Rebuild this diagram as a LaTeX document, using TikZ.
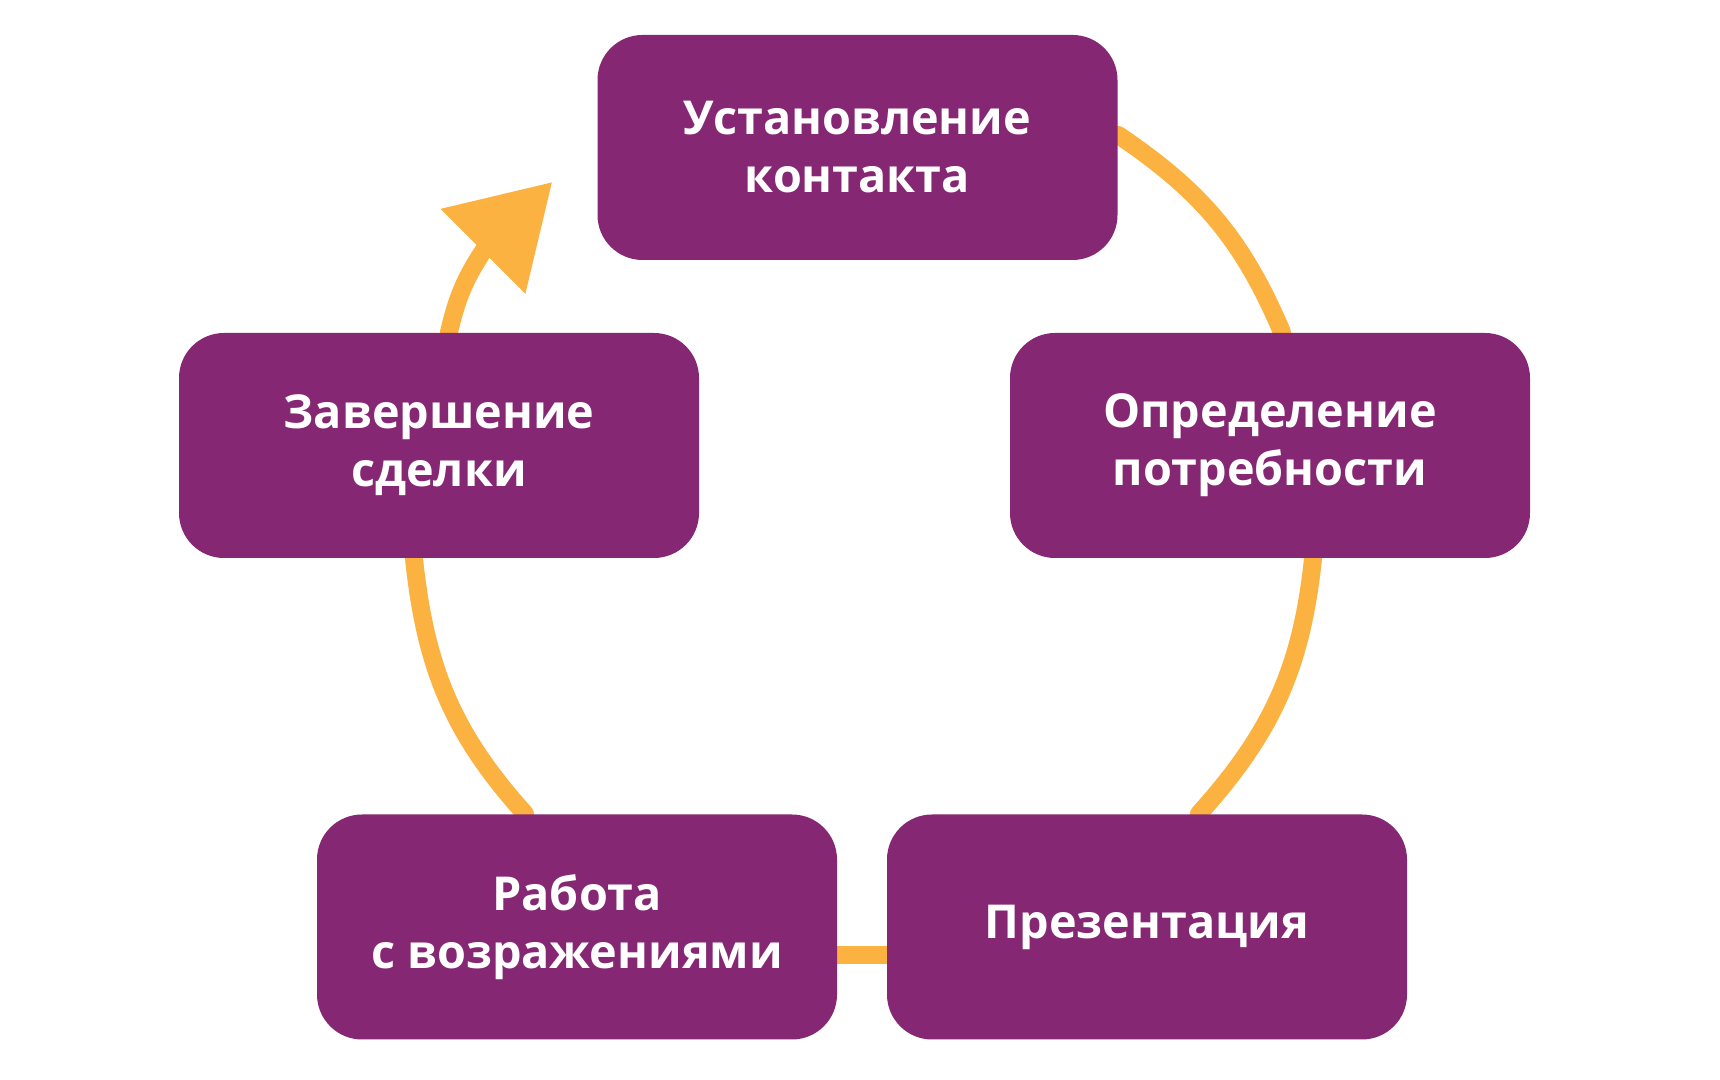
\documentclass[tikz,border=0pt]{standalone}
\usepackage{fontspec}
\setmainfont{Open Sans}
\usetikzlibrary{arrows.meta,backgrounds}
\definecolor{plum}{RGB}{133,39,115}
\definecolor{amber}{RGB}{252,178,64}

\begin{document}
\begin{tikzpicture}[
	stage/.style={fill=plum, rounded corners=0.45cm, minimum width=5.2cm, minimum height=2.25cm,
		inner sep=0pt, align=center, text=white, font=\fontsize{13.3}{16.5}\selectfont\bfseries},
	ring/.style={draw=amber, line width=0.18cm, line cap=round}]
	\useasboundingbox (0,0) rectangle (17.2,10.8);

	\node[stage] (C) at (8.575,9.325) {Установление\\контакта};
	\node[stage] (N) at (12.70,6.345) {Определение\\потребности};
	\node[stage] (P) at (11.47,1.53) {Презентация};
	\node[stage] (O) at (5.77,1.53) {Работа\\с возражениями};
	\node[stage] (D) at (4.39,6.345) {Завершение\\сделки};
	\coordinate (T) at ([shift={(-0.445,-0.345)}]C.west);

	\begin{scope}[on background layer]
		\draw[ring] ([yshift=0.125cm]C.east) to[out=-34,in=113] ([xshift=0.12cm]N.north);
		\draw[ring] ([xshift=0.43cm]N.south) to[out=-96,in=48] ([xshift=0.52cm]P.north);
		\draw[ring] ([yshift=-0.28cm]P.west) -- ([yshift=-0.28cm]O.east);
		\draw[ring] ([xshift=-0.52cm]O.north) to[out=132,in=-84] ([xshift=-0.25cm]D.south);
		\draw[ring, -{Triangle[length=0.98cm,width=1.15cm]}] ([xshift=0.1cm]D.north)
			to[out=77,in=237] ([shift={(225:0.98)}]T) -- (T);
	\end{scope}
\end{tikzpicture}
\end{document}
